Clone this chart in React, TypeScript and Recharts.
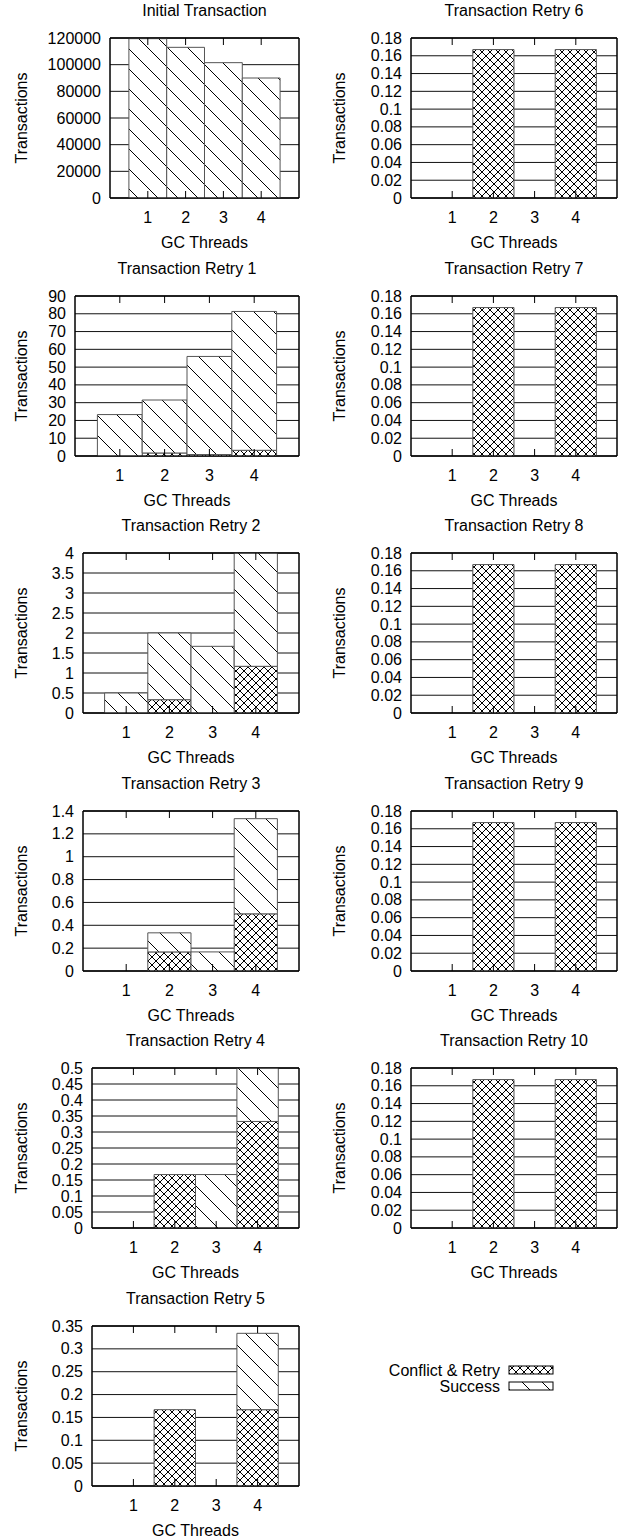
import { BarChart, Bar, XAxis, YAxis, CartesianGrid, ReferenceArea } from 'recharts';

const FONT = '"Liberation Sans", Arial, sans-serif';
const FS = 16;

const threads = [1, 2, 3, 4];
const xDomain = [0, 5];

const initialConflict = [0, 0, 0, 0];
const initialSuccess = [119500, 113000, 101500, 90000];
const retry1Conflict = [0, 1.7, 0.8, 3.2];
const retry1Success = [23.3, 29.8, 55.2, 78.1];
const retry2Conflict = [0, 0.333, 0, 1.167];
const retry2Success = [0.5, 1.667, 1.667, 2.833];
const retry3Conflict = [0, 0.167, 0, 0.5];
const retry3Success = [0, 0.167, 0.167, 0.833];
const retry4Conflict = [0, 0.167, 0, 0.333];
const retry4Success = [0, 0, 0.167, 0.167];
const retry5Conflict = [0, 0.167, 0, 0.167];
const retry5Success = [0, 0, 0, 0.167];
// retries 6..10 all look the same
const lateConflict = [0, 0.167, 0, 0.167];
const lateSuccess = [0, 0, 0, 0];

const ticksInitial = [0, 20000, 40000, 60000, 80000, 100000, 120000];
const ticksRetry1 = [0, 10, 20, 30, 40, 50, 60, 70, 80, 90];
const ticksRetry2 = [0, 0.5, 1, 1.5, 2, 2.5, 3, 3.5, 4];
const ticksRetry3 = [0, 0.2, 0.4, 0.6, 0.8, 1, 1.2, 1.4];
const ticksRetry4 = [0, 0.05, 0.1, 0.15, 0.2, 0.25, 0.3, 0.35, 0.4, 0.45, 0.5];
const ticksRetry5 = [0, 0.05, 0.1, 0.15, 0.2, 0.25, 0.3, 0.35];
const ticksLate = [0, 0.02, 0.04, 0.06, 0.08, 0.1, 0.12, 0.14, 0.16, 0.18];

const panels = [
  { title: 'Initial Transaction', conflict: initialConflict, success: initialSuccess, ticks: ticksInitial, col: 0, row: 0, plotLeft: 110 },
  { title: 'Transaction Retry 1', conflict: retry1Conflict, success: retry1Success, ticks: ticksRetry1, col: 0, row: 1, plotLeft: 75 },
  { title: 'Transaction Retry 2', conflict: retry2Conflict, success: retry2Success, ticks: ticksRetry2, col: 0, row: 2, plotLeft: 83 },
  { title: 'Transaction Retry 3', conflict: retry3Conflict, success: retry3Success, ticks: ticksRetry3, col: 0, row: 3, plotLeft: 83 },
  { title: 'Transaction Retry 4', conflict: retry4Conflict, success: retry4Success, ticks: ticksRetry4, col: 0, row: 4, plotLeft: 92 },
  { title: 'Transaction Retry 5', conflict: retry5Conflict, success: retry5Success, ticks: ticksRetry5, col: 0, row: 5, plotLeft: 92 },
  { title: 'Transaction Retry 6', conflict: lateConflict, success: lateSuccess, ticks: ticksLate, col: 1, row: 0, plotLeft: 411 },
  { title: 'Transaction Retry 7', conflict: lateConflict, success: lateSuccess, ticks: ticksLate, col: 1, row: 1, plotLeft: 411 },
  { title: 'Transaction Retry 8', conflict: lateConflict, success: lateSuccess, ticks: ticksLate, col: 1, row: 2, plotLeft: 411 },
  { title: 'Transaction Retry 9', conflict: lateConflict, success: lateSuccess, ticks: ticksLate, col: 1, row: 3, plotLeft: 411 },
  { title: 'Transaction Retry 10', conflict: lateConflict, success: lateSuccess, ticks: ticksLate, col: 1, row: 4, plotLeft: 411 },
];

const fmt = (v: number) => String(parseFloat(v.toFixed(6)));

const txt = { fontFamily: FONT, fontSize: FS, fill: '#000' };

const bottomTick = (props: any) => {
  const { x, y, payload } = props;
  return (
    <g>
      <line x1={x} y1={y} x2={x} y2={y - 7} stroke="#000" />
      <text x={x} y={y + 19} textAnchor="middle" dominantBaseline="central" {...txt}>
        {payload.value}
      </text>
    </g>
  );
};

const topTick = (props: any) => {
  const { x, y } = props;
  return <line x1={x} y1={y} x2={x} y2={y + 7} stroke="#000" />;
};

const yTick = (props: any) => {
  const { x, y, payload } = props;
  return (
    <text x={x - 9} y={y} textAnchor="end" dominantBaseline="central" {...txt}>
      {fmt(payload.value)}
    </text>
  );
};

function Panel({ p }: { p: (typeof panels)[number] }) {
  const colLeft = p.col === 0 ? 0 : 310;
  const chartW = p.col === 0 ? 310 : 313;
  const plotRight = p.col === 0 ? 299 : 617;
  const plotTop = 38 + 257.5 * p.row;
  const plotW = plotRight - p.plotLeft;
  // a hair under the slot width, otherwise recharts shrinks bars to 90%
  const barW = plotW / 5 - 0.01;
  const yMax = p.ticks[p.ticks.length - 1];
  const yLabelX = p.col === 0 ? 21 : 29;
  const data = threads.map((t, i) => ({ threads: t, conflict: p.conflict[i], success: p.success[i] }));

  return (
    <div style={{ position: 'absolute', left: colLeft, top: plotTop - 38 }}>
      <BarChart
        width={chartW}
        height={250}
        data={data}
        margin={{ top: 37, right: colLeft + chartW - plotRight - 1, bottom: 0, left: 0 }}
        barCategoryGap={0}
        barGap={0}
      >
        <CartesianGrid vertical={false} stroke="#111" />
        <XAxis
          xAxisId="top"
          orientation="top"
          type="number"
          dataKey="threads"
          domain={xDomain}
          ticks={threads}
          allowDataOverflow
          height={1}
          interval={0}
          tickSize={0}
          tickMargin={0}
          tickLine={false}
          tick={topTick}
          axisLine={{ stroke: '#000' }}
          label={{
            value: p.title,
            content: (lp: any) => (
              <text x={lp.viewBox.x + lp.viewBox.width / 2} y={lp.viewBox.y + lp.viewBox.height - 28} textAnchor="middle" dominantBaseline="central" {...txt}>
                {lp.value}
              </text>
            ),
          }}
        />
        <XAxis
          type="number"
          dataKey="threads"
          domain={xDomain}
          ticks={threads}
          allowDataOverflow
          height={52}
          interval={0}
          tickSize={0}
          tickMargin={0}
          tickLine={false}
          tick={bottomTick}
          axisLine={{ stroke: '#000' }}
          label={{
            value: 'GC Threads',
            content: (lp: any) => (
              <text x={lp.viewBox.x + lp.viewBox.width / 2} y={lp.viewBox.y + 44} textAnchor="middle" dominantBaseline="central" {...txt}>
                {lp.value}
              </text>
            ),
          }}
        />
        <YAxis
          width={p.plotLeft - colLeft}
          domain={[0, yMax]}
          ticks={p.ticks}
          interval={0}
          allowDataOverflow
          tickSize={0}
          tickMargin={0}
          tickLine={false}
          tick={yTick}
          axisLine={{ stroke: '#000' }}
          label={{
            value: 'Transactions',
            content: (lp: any) => {
              const cy = lp.viewBox.y + lp.viewBox.height / 2;
              return (
                <text x={yLabelX} y={cy} transform={`rotate(-90 ${yLabelX} ${cy})`} textAnchor="middle" dominantBaseline="central" {...txt}>
                  {lp.value}
                </text>
              );
            },
          }}
        />
        <YAxis
          yAxisId="right"
          orientation="right"
          width={1}
          domain={[0, yMax]}
          allowDataOverflow
          tick={false}
          tickLine={false}
          axisLine={{ stroke: '#000' }}
        />
        <Bar dataKey="conflict" name="Conflict & Retry" stackId="a" barSize={barW} fill="url(#crosshatch)" stroke="#555" isAnimationActive={false} />
        <Bar dataKey="success" name="Success" stackId="a" barSize={barW} fill="url(#diagonal)" stroke="#555" isAnimationActive={false} />
        <ReferenceArea x1={xDomain[0]} x2={xDomain[1]} y1={0} y2={yMax} fill="none" fillOpacity={0} stroke="#000" strokeOpacity={1} ifOverflow="visible" />
      </BarChart>
    </div>
  );
}

function Patterns() {
  return (
    <svg width={0} height={0} style={{ position: 'absolute' }}>
      <defs>
        <pattern id="crosshatch" patternUnits="userSpaceOnUse" width={8} height={8}>
          <rect width={8} height={8} fill="#fff" />
          <path d="M0,0 L8,8 M8,0 L0,8" stroke="#000" strokeWidth={1} />
        </pattern>
        <pattern id="diagonal" patternUnits="userSpaceOnUse" width={20} height={20}>
          <rect width={20} height={20} fill="#fff" />
          <path d="M-2,-2 L22,22 M18,-2 L22,2 M-2,18 L2,22" stroke="#000" strokeWidth={1} />
        </pattern>
      </defs>
    </svg>
  );
}

function LegendBox() {
  const items = [
    { label: 'Conflict & Retry', fill: 'url(#crosshatch)', y: 1370 },
    { label: 'Success', fill: 'url(#diagonal)', y: 1386 },
  ];
  return (
    <svg width={623} height={1540} style={{ position: 'absolute', left: 0, top: 0, pointerEvents: 'none' }}>
      {items.map((it) => (
        <g key={it.label}>
          <text x={500} y={it.y} textAnchor="end" dominantBaseline="central" {...txt}>
            {it.label}
          </text>
          <rect x={509} y={it.y - 4} width={44} height={8} fill={it.fill} stroke="#000" />
        </g>
      ))}
    </svg>
  );
}

export default function App() {
  return (
    <div style={{ position: 'absolute', left: 0, top: 0, width: 623, height: 1540, background: '#fff', fontFamily: FONT }}>
      <Patterns />
      {panels.map((p) => (
        <Panel key={p.title} p={p} />
      ))}
      <LegendBox />
    </div>
  );
}
